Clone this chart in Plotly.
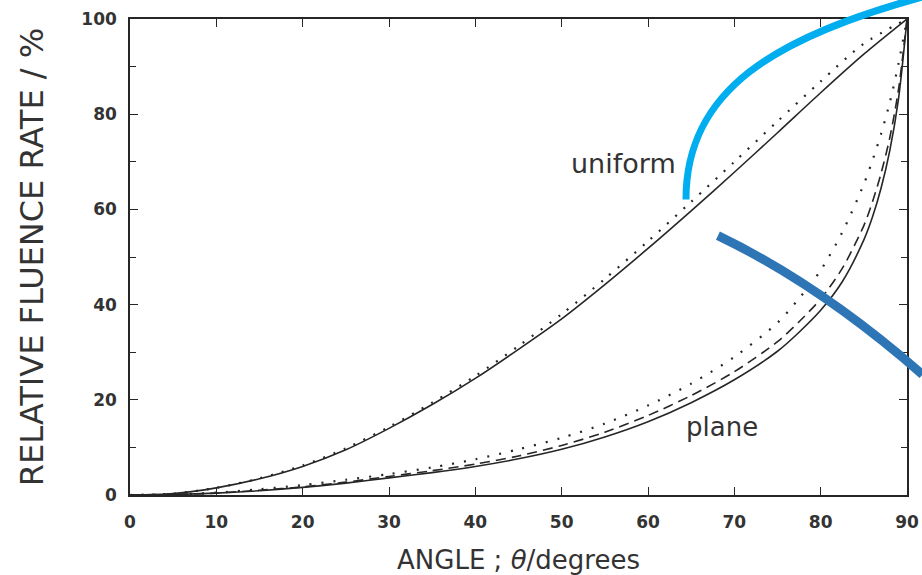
import plotly.graph_objects as go

# ---- data ----
angle_uniform = [0, 5, 10, 15, 20, 25, 30, 35, 40, 45, 50, 55, 60, 65, 70, 75, 80, 85, 90]
uniform_solid = [0, 0.3, 1.5, 3.4, 6.0, 9.5, 14.0, 19.0, 24.5, 30.6, 37.0, 44.2, 51.8, 59.7, 67.8, 76.1, 84.5, 92.6, 100]
uniform_dotted = [0, 0.3, 1.5, 3.5, 6.2, 9.8, 14.3, 19.4, 25.0, 31.3, 38.0, 45.4, 53.3, 61.6, 70.0, 78.5, 86.9, 94.8, 100]

angle_plane = [0, 5, 10, 15, 20, 25, 30, 35, 40, 45, 50, 55, 60, 65, 70, 75, 77.5, 80, 82.5, 85, 86, 87, 88, 89, 90]
plane_solid = [0, 0.1, 0.4, 0.9, 1.6, 2.5, 3.6, 4.7, 6.0, 7.6, 9.6, 12.2, 15.4, 19.4, 24.2, 30.2, 34.2, 38.8, 44.8, 53.6, 58.4, 64.5, 72.3, 83.0, 100]
plane_dashed = [0, 0.1, 0.4, 1.0, 1.7, 2.7, 3.9, 5.1, 6.5, 8.2, 10.4, 13.2, 16.7, 20.9, 25.9, 32.2, 36.4, 41.2, 47.6, 56.6, 61.6, 67.6, 75.0, 85.0, 100]
plane_dotted = [0, 0.1, 0.5, 1.2, 2.1, 3.2, 4.4, 5.8, 7.5, 9.6, 12.0, 15.0, 18.8, 23.4, 29.0, 36.2, 41.3, 47.2, 55.2, 65.3, 70.3, 75.9, 82.4, 90.5, 100]

x_ticks = [0, 10, 20, 30, 40, 50, 60, 70, 80, 90]
y_ticks = [0, 20, 40, 60, 80, 100]

# overlay strokes drawn on top of the scan: start, control point(s), end (chart units)
arc_light_x = [64.4, 64.4, 74.9, 92.1]
arc_light_y = [62.1, 85.3, 96.3, 104.8]
line_dark_x = [68.1, 79.9, 91.8]
line_dark_y = [54.5, 44.2, 25.3]

X_MAX, Y_MAX = 90.0, 100.0
INK = "#262626"


def bezier_path(xs, ys):
    p = [f"{x / X_MAX:.5f},{y / Y_MAX:.5f}" for x, y in zip(xs, ys)]
    cmd = "C" if len(p) == 4 else "Q"
    return f"M {p[0]} {cmd} " + " ".join(p[1:])


fig = go.Figure()

line_common = dict(color=INK, shape="spline", smoothing=0.8)
fig.add_trace(go.Scatter(x=angle_uniform, y=uniform_solid, mode="lines",
                         line=dict(width=1.6, **line_common), showlegend=False))
fig.add_trace(go.Scatter(x=angle_uniform, y=uniform_dotted, mode="lines",
                         line=dict(width=2.2, dash="2px,9px", **line_common), showlegend=False))
fig.add_trace(go.Scatter(x=angle_plane, y=plane_solid, mode="lines",
                         line=dict(width=1.6, **line_common), showlegend=False))
fig.add_trace(go.Scatter(x=angle_plane, y=plane_dashed, mode="lines",
                         line=dict(width=1.6, dash="10px,6px", **line_common), showlegend=False))
fig.add_trace(go.Scatter(x=angle_plane, y=plane_dotted, mode="lines",
                         line=dict(width=2.2, dash="2px,10px", **line_common), showlegend=False))

fig.add_annotation(x=57.2, y=69.7, text="uniform", showarrow=False,
                   font=dict(family="DejaVu Sans", size=27, color="#333333"))
fig.add_annotation(x=68.6, y=14.3, text="plane", showarrow=False,
                   font=dict(family="DejaVu Sans", size=26, color="#333333"))

fig.add_shape(type="path", xref="paper", yref="paper", layer="above",
              path=bezier_path(arc_light_x, arc_light_y),
              line=dict(color="#00AEEF", width=7))
fig.add_shape(type="path", xref="paper", yref="paper", layer="above",
              path=bezier_path(line_dark_x, line_dark_y),
              line=dict(color="#2E75B6", width=9))

axis_common = dict(
    showline=True, linewidth=1.5, linecolor=INK, mirror="ticks",
    ticks="inside", ticklen=8, tickwidth=1.3, tickcolor=INK,
    showgrid=False, zeroline=False, automargin=False,
    tickfont=dict(family="DejaVu Sans", size=17, color="#333333", weight="bold"),
)

fig.update_xaxes(range=[0, X_MAX], tickvals=x_ticks, ticklabelstandoff=11,
                 title=dict(text="ANGLE ; <i>θ</i>/degrees", standoff=20,
                            font=dict(family="DejaVu Sans", size=26, color="#333333")),
                 **axis_common)
fig.update_yaxes(range=[0, Y_MAX], tickvals=y_ticks, ticklabelstandoff=8,
                 minor=dict(dtick=10, ticks="inside", ticklen=6, tickwidth=1.2, tickcolor=INK),
                 title=dict(text="RELATIVE FLUENCE RATE / %", standoff=28,
                            font=dict(family="DejaVu Sans", size=32, color="#333333")),
                 **axis_common)

fig.update_layout(
    width=922, height=575,
    margin=dict(l=130, r=15, t=19, b=80, autoexpand=False),
    plot_bgcolor="white", paper_bgcolor="white",
    showlegend=False,
)

fig.write_html("out.html")
